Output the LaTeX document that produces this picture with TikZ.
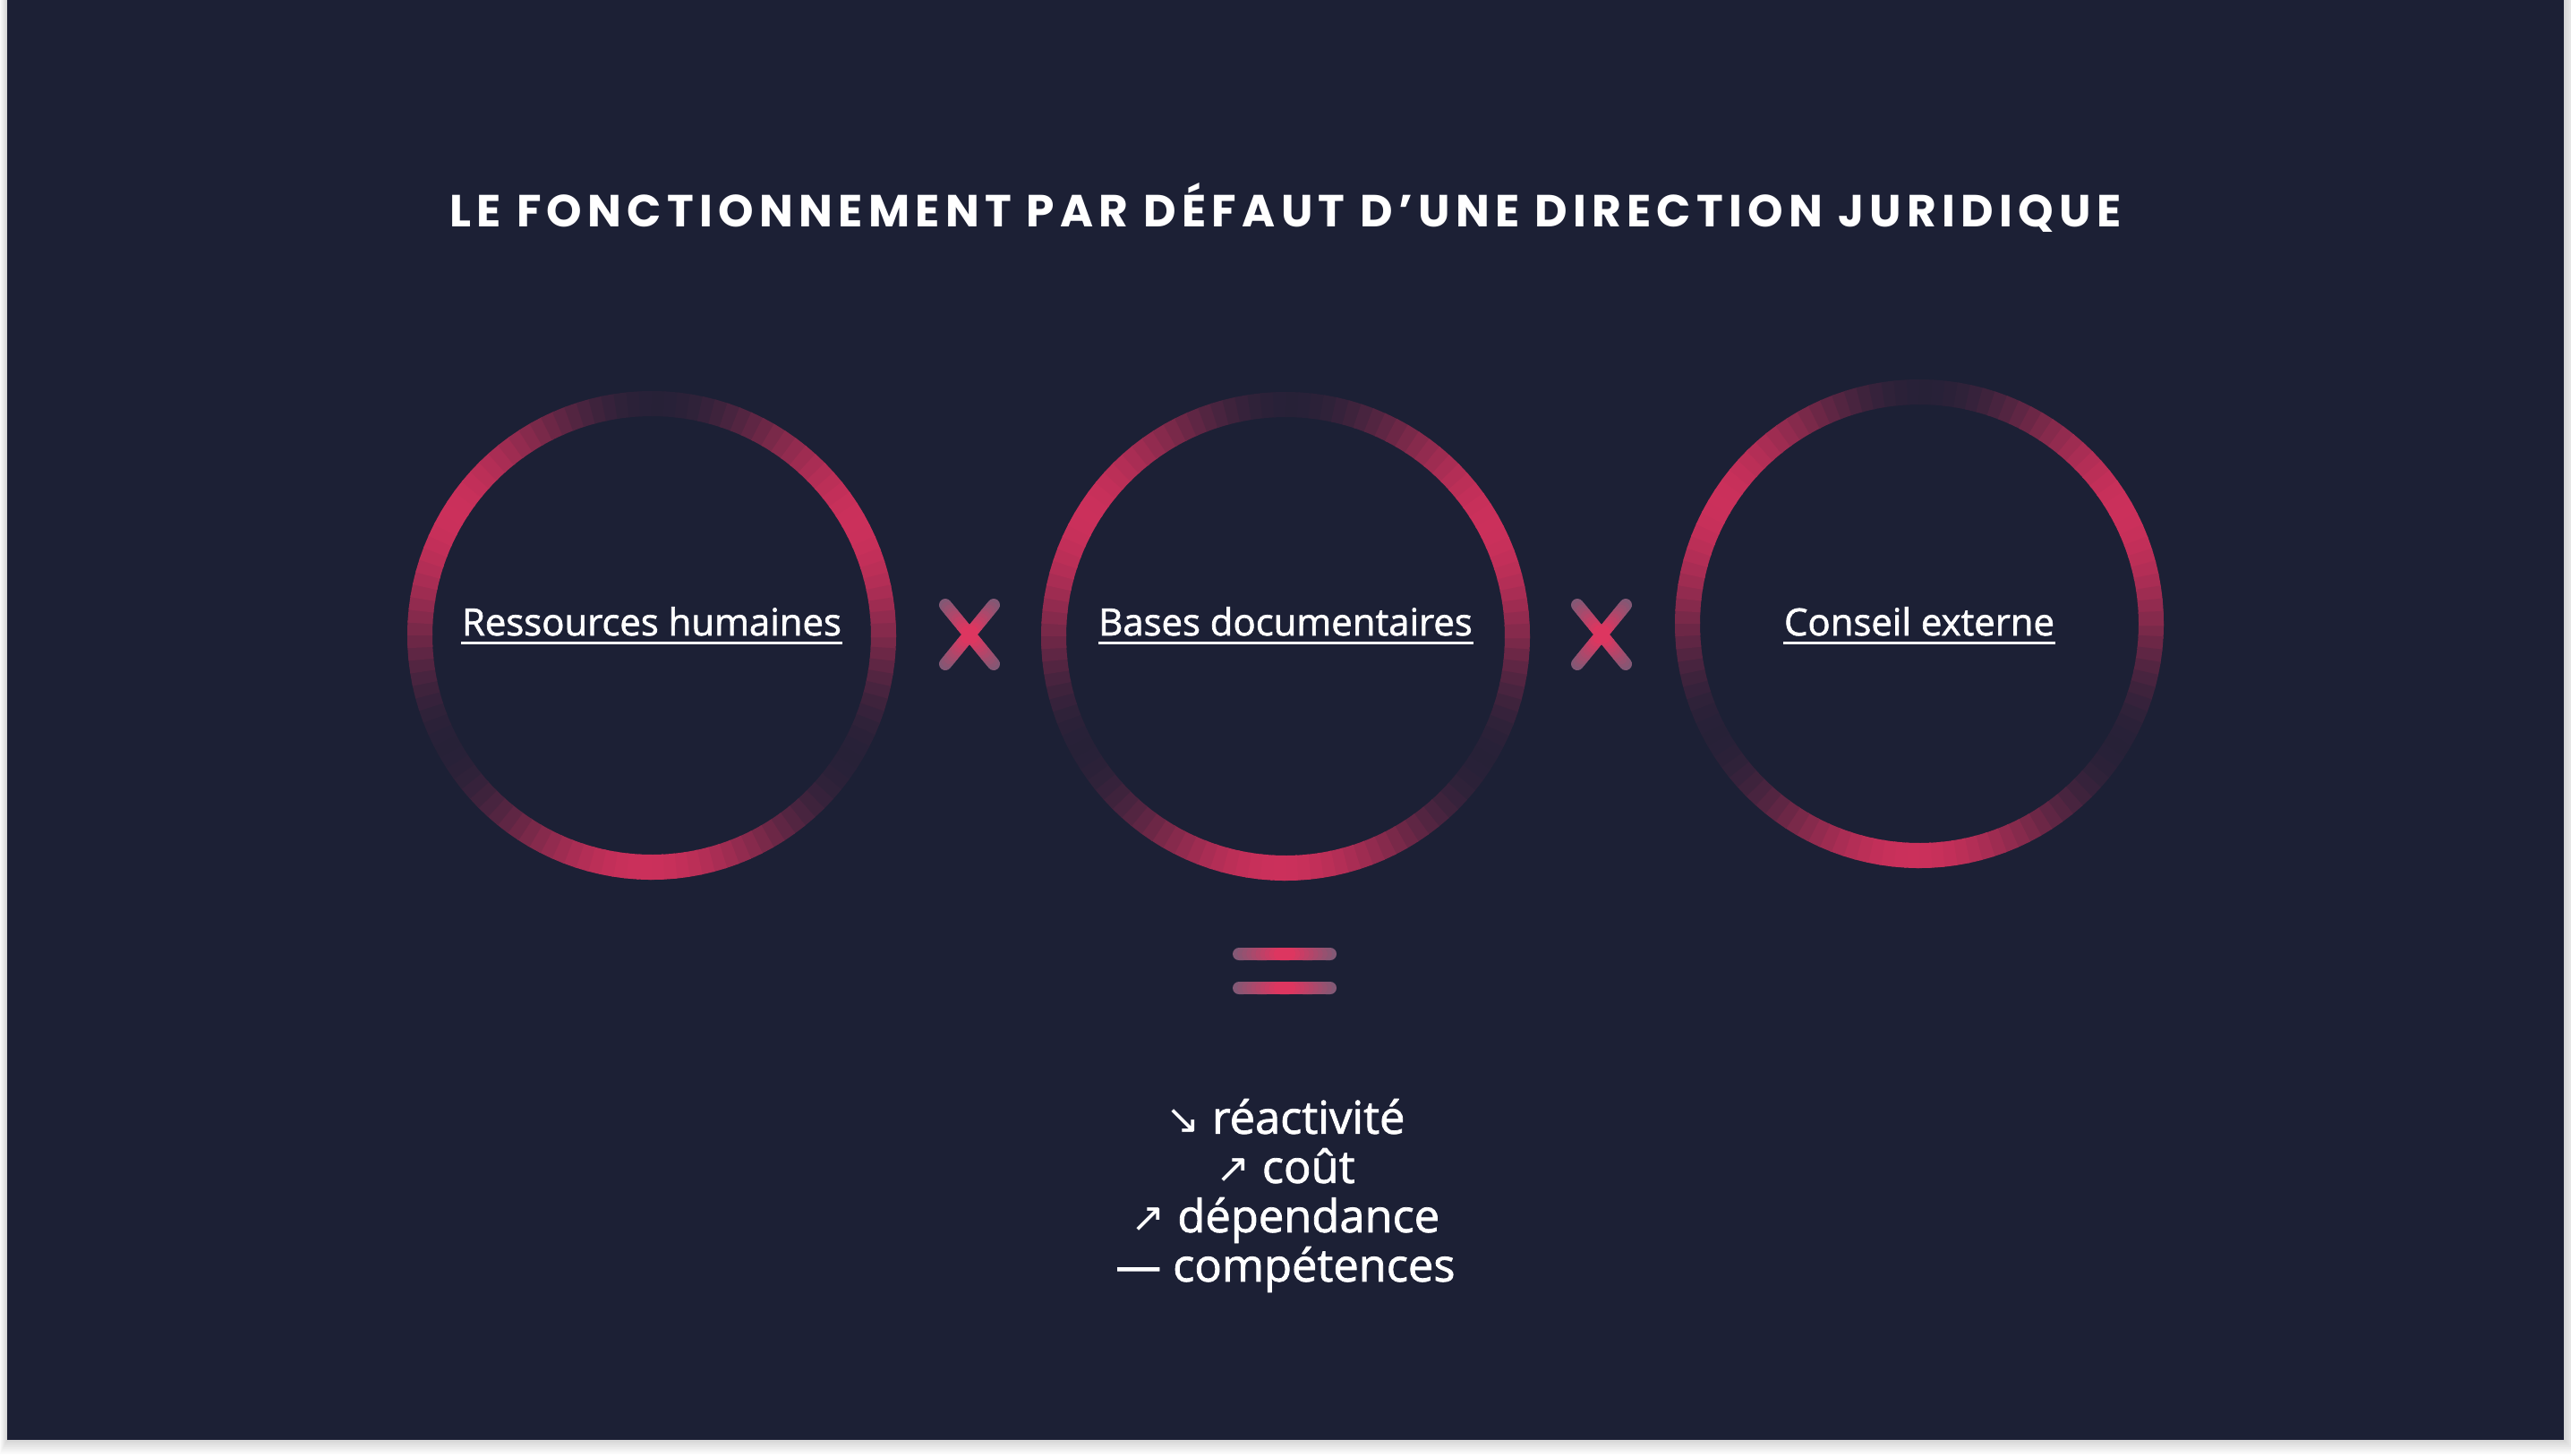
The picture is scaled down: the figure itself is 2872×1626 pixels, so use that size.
\documentclass[tikz,border=0pt]{standalone}
\usepackage{fontspec}
\setmainfont{Open Sans}
\newfontfamily\medfont{Open Sans}[FakeBold=1.6]
\newfontfamily\titlefont{Poppins}[LetterSpace=12.5]
\newfontfamily\arrowfont{DejaVu Sans}
\usetikzlibrary{calc}

\definecolor{navy}{HTML}{1C2035}
\definecolor{ringpink}{HTML}{CB305B}
\definecolor{xpink}{HTML}{E2345F}
\definecolor{xmauve}{HTML}{7E5A76}

% gradient stroke between two named coordinates, pink in the middle
\newcommand\gradbar[2]{%
  \foreach \t in {0,...,9} {%
    \pgfmathsetmacro\p{5+10*\t}%
    \draw[bar, xpink!\p!xmauve] ($(#1)!{\t/20}!(#2)$) -- ($(#1)!{(\t+1)/20}!(#2)$);
    \draw[bar, xpink!\p!xmauve] ($(#1)!{(19-\t)/20}!(#2)$) -- ($(#1)!{(20-\t)/20}!(#2)$);
  }}
\newcommand\arr[1]{{\arrowfont\fontsize{13pt}{13pt}\selectfont #1}}

\begin{document}
\begin{tikzpicture}[x=0.01cm, y=-0.01cm,
    ring/.style={line width=2.8mm},
    bar/.style={line width=1.4mm, line cap=round},
    lbl/.style={font=\medfont\fontsize{11.9pt}{14pt}\selectfont, text=white,
      inner sep=0pt, anchor=base},
    uline/.style={white, line width=0.3mm},
    titre/.style={font=\titlefont\bfseries\fontsize{14.3pt}{17pt}\selectfont,
      text=white, inner sep=0pt, anchor=base},
    bilan/.style={font=\medfont\fontsize{14.4pt}{15.65pt}\selectfont, text=white,
      align=center, inner sep=0pt},
  ]
  \def\rr{259}  % ring radius (px)

  \useasboundingbox (0,0) rectangle (2872,1626);

  % slide with its shadow
  \fill[white] (0,0) rectangle (2872,1626);
  \foreach \s in {2,4,...,16}
    \fill[black, opacity=0.018] (8-\s/2,0) rectangle (2864+\s,1609+\s);
  \fill[navy] (8,0) rectangle (2864,1609);

  % title
  \node[titre] (titre) at (1436,253)
    {LE FONCTIONNEMENT PAR DÉFAUT D’UNE DIRECTION JURIDIQUE};

  % rings: pink fading to navy at top, lower left, lower right
  \foreach \n/\cx/\cy in {1/728/710, 2/1436/711, 3/2144/697} {
    \coordinate (ring\n) at (\cx,\cy);
    \foreach \a in {0,3,...,357} {
      \pgfmathsetmacro\p{6+47*(1+cos(3*(\a+30)))}
      \draw[ring, ringpink!\p!navy] (ring\n) ++(\a:\rr)
        arc[start angle=\a, end angle=\a+3.5, radius=\rr];
    }
  }

  % labels
  \node[lbl] (lbl1) at (728,710) {Ressources humaines};
  \node[lbl] (lbl2) at (1436,710) {Bases documentaires};
  \node[lbl] (lbl3) at (2144,710) {Conseil externe};
  \foreach \n in {1,2,3}
    \draw[uline] ([yshift=-0.8mm]lbl\n.base west) -- ([yshift=-0.8mm]lbl\n.base east);

  % times signs
  \coordinate (x1) at (1083,709);
  \coordinate (x2) at (1789,709);
  \foreach \n in {1,2} {
    \coordinate (x\n-nw) at ($(x\n)+(-27,-33)$);
    \coordinate (x\n-se) at ($(x\n)+(27,33)$);
    \coordinate (x\n-ne) at ($(x\n)+(27,-33)$);
    \coordinate (x\n-sw) at ($(x\n)+(-27,33)$);
    \gradbar{x\n-nw}{x\n-se}
    \gradbar{x\n-ne}{x\n-sw}
  }

  % equals sign
  \coordinate (eq1w) at (1384,1066);
  \coordinate (eq1e) at (1486,1066);
  \coordinate (eq2w) at (1384,1104);
  \coordinate (eq2e) at (1486,1104);
  \gradbar{eq1w}{eq1e}
  \gradbar{eq2w}{eq2e}

  % result
  \node[bilan] (bilan) at (1436,1336)
    {\arr{↘} réactivité\\
     \arr{↗} coût\\
     \arr{↗} dépendance\\
     — compétences};
\end{tikzpicture}
\end{document}
